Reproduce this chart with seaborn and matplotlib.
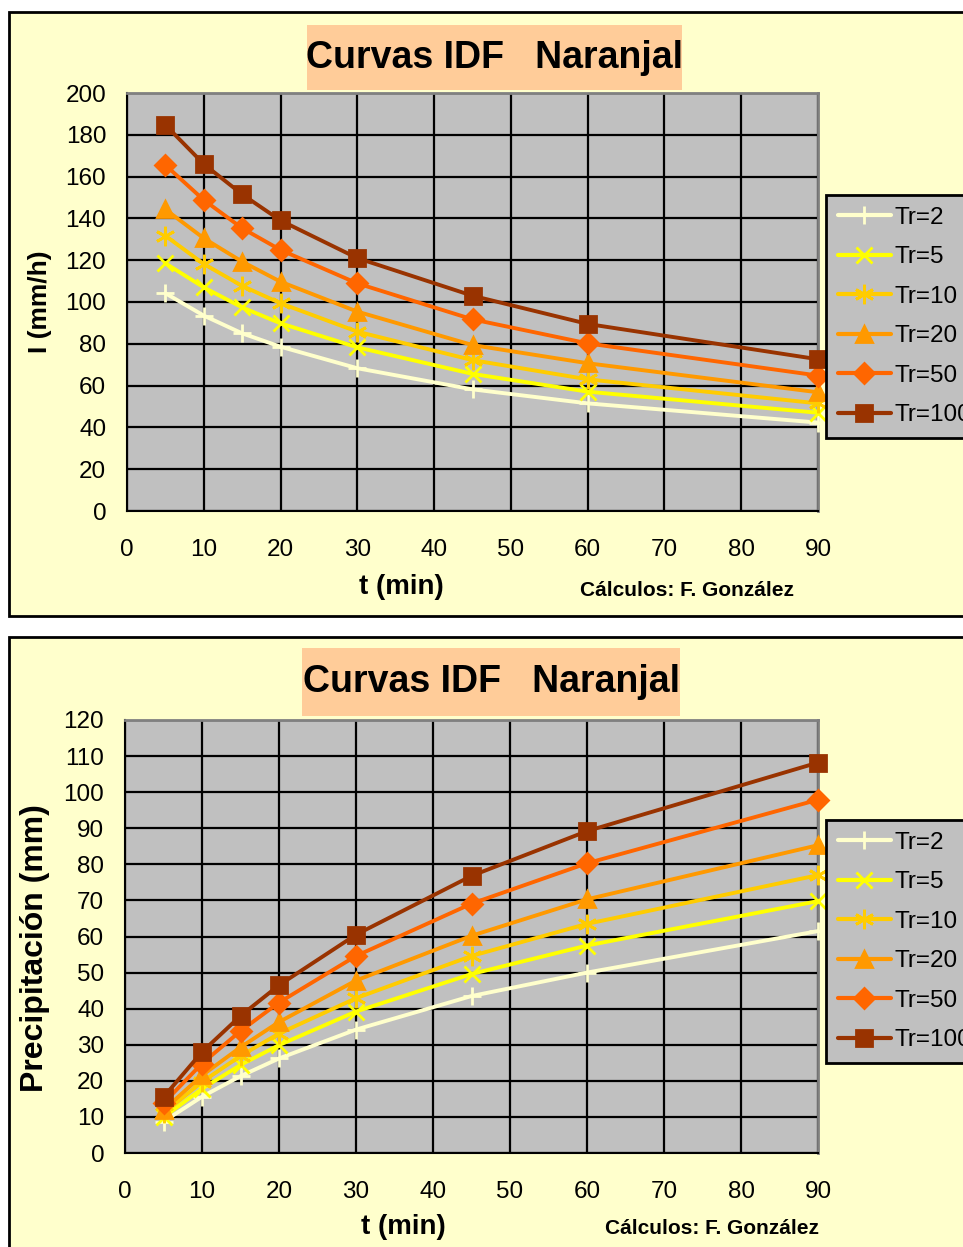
import matplotlib
matplotlib.use("Agg")
import matplotlib.pyplot as plt
from matplotlib.patches import Rectangle
import seaborn as sns
import pandas as pd

# ---------------- data ----------------
t_min = [5, 10, 15, 20, 30, 45, 60, 90]
series_names = ["Tr=2", "Tr=5", "Tr=10", "Tr=20", "Tr=50", "Tr=100"]

# Intensity I (mm/h)
I_tr2 = [104.2, 93.5, 85.0, 78.6, 68.3, 58.2, 51.5, 42.3]
I_tr5 = [118.5, 107.0, 97.4, 89.8, 78.3, 65.6, 57.1, 47.0]
I_tr10 = [131.7, 118.2, 107.7, 99.4, 85.8, 72.2, 63.0, 51.5]
I_tr20 = [144.3, 130.5, 119.3, 109.7, 95.4, 79.4, 70.7, 56.8]
I_tr50 = [165.5, 148.8, 135.3, 124.9, 108.9, 91.7, 80.2, 64.8]
I_tr100 = [184.7, 166.0, 151.5, 139.0, 121.0, 103.0, 89.5, 72.6]

# Precipitation P (mm)
P_tr2 = [8.7, 15.6, 21.3, 26.2, 34.2, 43.5, 50.0, 61.5]
P_tr5 = [9.9, 17.8, 24.4, 29.9, 39.2, 49.6, 57.5, 69.8]
P_tr10 = [11.0, 19.7, 26.9, 33.1, 42.9, 54.6, 63.5, 77.0]
P_tr20 = [11.9, 21.5, 29.3, 36.3, 47.8, 60.2, 70.3, 85.3]
P_tr50 = [13.8, 24.8, 33.8, 41.7, 54.6, 69.1, 80.3, 97.9]
P_tr100 = [15.5, 28.0, 38.0, 46.5, 60.5, 76.8, 89.2, 108.2]

x_ticks = [0, 10, 20, 30, 40, 50, 60, 70, 80, 90]
y_ticks_I = [0, 20, 40, 60, 80, 100, 120, 140, 160, 180, 200]
y_ticks_P = [0, 10, 20, 30, 40, 50, 60, 70, 80, 90, 100, 110, 120]

title_text = "Curvas IDF   Naranjal"
xlabel_text = "t (min)"
ylabel_I = "I (mm/h)"
ylabel_P = "Precipitación (mm)"
credit_text = "Cálculos: F. González"

# ---------------- styles ----------------
colors = {"Tr=2": "#FFFFCC", "Tr=5": "#FFFF00", "Tr=10": "#FFCC00",
          "Tr=20": "#FF9900", "Tr=50": "#FF6600", "Tr=100": "#993300"}
markers = {"Tr=2": "+", "Tr=5": "x", "Tr=10": (6, 2, 0),
           "Tr=20": "^", "Tr=50": "D", "Tr=100": "s"}
msizes = {"Tr=2": 13, "Tr=5": 12, "Tr=10": 14, "Tr=20": 12, "Tr=50": 10, "Tr=100": 11}

sns.set_style("white")
plt.rcParams['font.family'] = ['Liberation Sans', 'DejaVu Sans']
plt.rcParams['text.color'] = 'black'
plt.rcParams['xtick.color'] = 'black'
plt.rcParams['ytick.color'] = 'black'

W, H = 963, 1247
fig = plt.figure(figsize=(W / 100, H / 100), dpi=100, facecolor="white")


def fx(px):
    return px / W


def fy(py):
    return 1 - py / H


def long_df(vals):
    rows = []
    for name, v in zip(series_names, vals):
        for t, y in zip(t_min, v):
            rows.append({"t": t, "val": y, "Tr": name})
    return pd.DataFrame(rows)


df_I = long_df([I_tr2, I_tr5, I_tr10, I_tr20, I_tr50, I_tr100])
df_P = long_df([P_tr2, P_tr5, P_tr10, P_tr20, P_tr50, P_tr100])

# panel backgrounds
for (y0, y1) in [(12, 616), (637, 1270)]:
    fig.add_artist(Rectangle((fx(9), fy(y1)), fx(1000 - 9), (y1 - y0) / H,
                             transform=fig.transFigure, facecolor="#FFFFCC",
                             edgecolor="black", linewidth=2, zorder=0))


def make_panel(df, ax_box, yticks, ylim, ylabel, ylabel_xy, ylabel_size,
               title_box, xlabel_xy, credit_xy, legend_top):
    l, r, t, b = ax_box
    ax = fig.add_axes([fx(l), fy(b), (r - l) / W, (b - t) / H])
    ax.set_facecolor("#C0C0C0")
    for name in series_names:
        sub = df[df["Tr"] == name]
        sns.lineplot(data=sub, x="t", y="val", color=colors[name],
                     marker=markers[name], markersize=msizes[name],
                     markeredgewidth=2, markeredgecolor=colors[name],
                     linewidth=2.8, ax=ax, legend=False, zorder=5)
    for line in ax.get_lines():
        line.set_clip_on(False)
    ax.set_xlim(0, 90)
    ax.set_ylim(*ylim)
    ax.set_xticks(x_ticks)
    ax.set_yticks(yticks)
    ax.grid(True, color="black", linewidth=1.6, zorder=1)
    ax.set_axisbelow(True)
    for s in ["top", "right"]:
        ax.spines[s].set_color("#808080")
        ax.spines[s].set_linewidth(2)
    for s in ["left", "bottom"]:
        ax.spines[s].set_color("black")
        ax.spines[s].set_linewidth(1.5)
    ax.tick_params(axis="both", direction="out", length=7, width=1.5,
                   colors="black", labelsize=17.5)
    ax.tick_params(axis="x", pad=13)
    ax.tick_params(axis="y", pad=8)
    ax.set_xlabel("")
    ax.set_ylabel("")

    # title box
    tl, tr_, tt, tb = title_box
    fig.add_artist(Rectangle((fx(tl), fy(tb)), (tr_ - tl) / W, (tb - tt) / H,
                             transform=fig.transFigure, facecolor="#FFCC99",
                             edgecolor="none", zorder=1))
    fig.text(fx((tl + tr_) / 2), fy((tt + tb) / 2), title_text,
             ha="center", va="center", fontsize=27, fontweight="bold")

    fig.text(fx(ylabel_xy[0]), fy(ylabel_xy[1]), ylabel, rotation=90,
             ha="center", va="center", fontsize=ylabel_size, fontweight="bold")
    fig.text(fx(xlabel_xy[0]), fy(xlabel_xy[1]), xlabel_text,
             ha="center", va="center", fontsize=20, fontweight="bold")
    fig.text(fx(credit_xy[0]), fy(credit_xy[1]), credit_text,
             ha="center", va="center", fontsize=15, fontweight="bold")

    handles = [plt.Line2D([], [], color=colors[n], marker=markers[n],
                          markersize=msizes[n], markeredgewidth=2,
                          markeredgecolor=colors[n], linewidth=3)
               for n in series_names]
    leg = fig.legend(handles, series_names, loc="upper left",
                     bbox_to_anchor=(fx(826), fy(legend_top)),
                     bbox_transform=fig.transFigure,
                     frameon=True, fancybox=False, facecolor="#C0C0C0",
                     edgecolor="black", framealpha=1, fontsize=17.5,
                     labelspacing=0.72, handlelength=2.2, handletextpad=0.15,
                     borderpad=0.48, borderaxespad=0)
    leg.get_frame().set_linewidth(2)
    return ax


make_panel(df_I, (127, 818, 93, 511), y_ticks_I, (0, 200), ylabel_I,
           (40, 302), 19, (307, 682, 25, 90), (401, 587), (687, 590), 195)
make_panel(df_P, (125, 818, 720, 1153), y_ticks_P, (0, 120), ylabel_P,
           (35, 948), 23, (302, 680, 648, 716), (403, 1227), (712, 1229), 820)

fig.savefig("out.png", dpi=100, facecolor="white")
